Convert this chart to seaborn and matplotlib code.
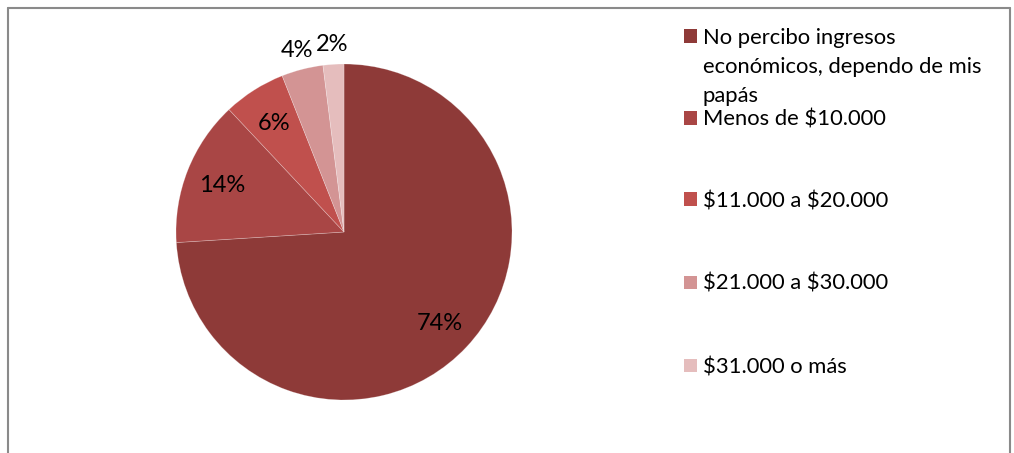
import numpy as np
import matplotlib
matplotlib.use("Agg")
import matplotlib.pyplot as plt
from matplotlib.lines import Line2D
from matplotlib.patches import Rectangle
import seaborn as sns

# Income brackets and their share of respondents (%)
categories = [
    "No percibo ingresos\neconómicos, dependo de mis\npapás",
    "Menos de $10.000",
    "$11.000 a $20.000",
    "$21.000 a $30.000",
    "$31.000 o más",
]
shares = [74, 14, 6, 4, 2]
pct_labels = ["74%", "14%", "6%", "4%", "2%"]
colors = ["#8E3A38", "#A94645", "#C0504D", "#D39494", "#E5BDBD"]

sns.set_theme(style="white")
plt.rcParams["font.family"] = ["Lato", "DejaVu Sans"]
plt.rcParams["text.parse_math"] = False

W, H = 1014, 453
fig = plt.figure(figsize=(W / 100, H / 100), dpi=100)
fig.patch.set_facecolor("white")

# Pie axes: square box centred on the pie
cx, cy, r = 344, 232, 168
ax = fig.add_axes([(cx - r) / W, (H - cy - r) / H, 2 * r / W, 2 * r / H])
palette = sns.color_palette(colors)
wedges, _ = ax.pie(
    shares,
    colors=palette,
    startangle=90,
    counterclock=False,
    radius=1.0,
    wedgeprops=dict(edgecolor=(1, 1, 1, 0.3), linewidth=0.5),
)
ax.set_xlim(-1, 1)
ax.set_ylim(-1, 1)
ax.set_aspect("equal")
ax.axis("off")

# Percentage labels: inside for large slices, outside for the small ones
total = float(sum(shares))
cum = 0.0
for val, lab in zip(shares, pct_labels):
    mid = cum + val / 2.0
    cum += val
    ang = np.deg2rad(90 - 360.0 * mid / total)
    dist = 0.78 if val >= 5 else 1.13
    ax.text(dist * np.cos(ang), dist * np.sin(ang), lab,
            ha="center", va="center_baseline", fontsize=17, color="black")

# Legend on the right
sq = 13
sq_x = 684
text_x = 703
line_h = 29
entry_centres = [36, 118, 199, 282, 365]
for cat, col, yc in zip(categories, colors, entry_centres):
    fig.add_artist(Rectangle((sq_x / W, (H - yc - sq / 2) / H), sq / W, sq / H,
                             transform=fig.transFigure, facecolor=col,
                             edgecolor="none"))
    for i, line in enumerate(cat.split("\n")):
        fig.text(text_x / W, (H - yc - i * line_h) / H, line, ha="left",
                 va="center_baseline", fontsize=15.8, color="black")

# Chart area border (top, left, right)
bc = "#8A8A8A"
fig.add_artist(Line2D([8 / W, 8 / W], [-0.1, (H - 8) / H], color=bc, lw=1.5,
                      transform=fig.transFigure))
fig.add_artist(Line2D([8 / W, 1010 / W], [(H - 8) / H, (H - 8) / H], color=bc,
                      lw=1.5, transform=fig.transFigure))
fig.add_artist(Line2D([1010 / W, 1010 / W], [-0.1, (H - 8) / H], color=bc,
                      lw=1.5, transform=fig.transFigure))

fig.savefig("out.png", dpi=100, facecolor="white")
